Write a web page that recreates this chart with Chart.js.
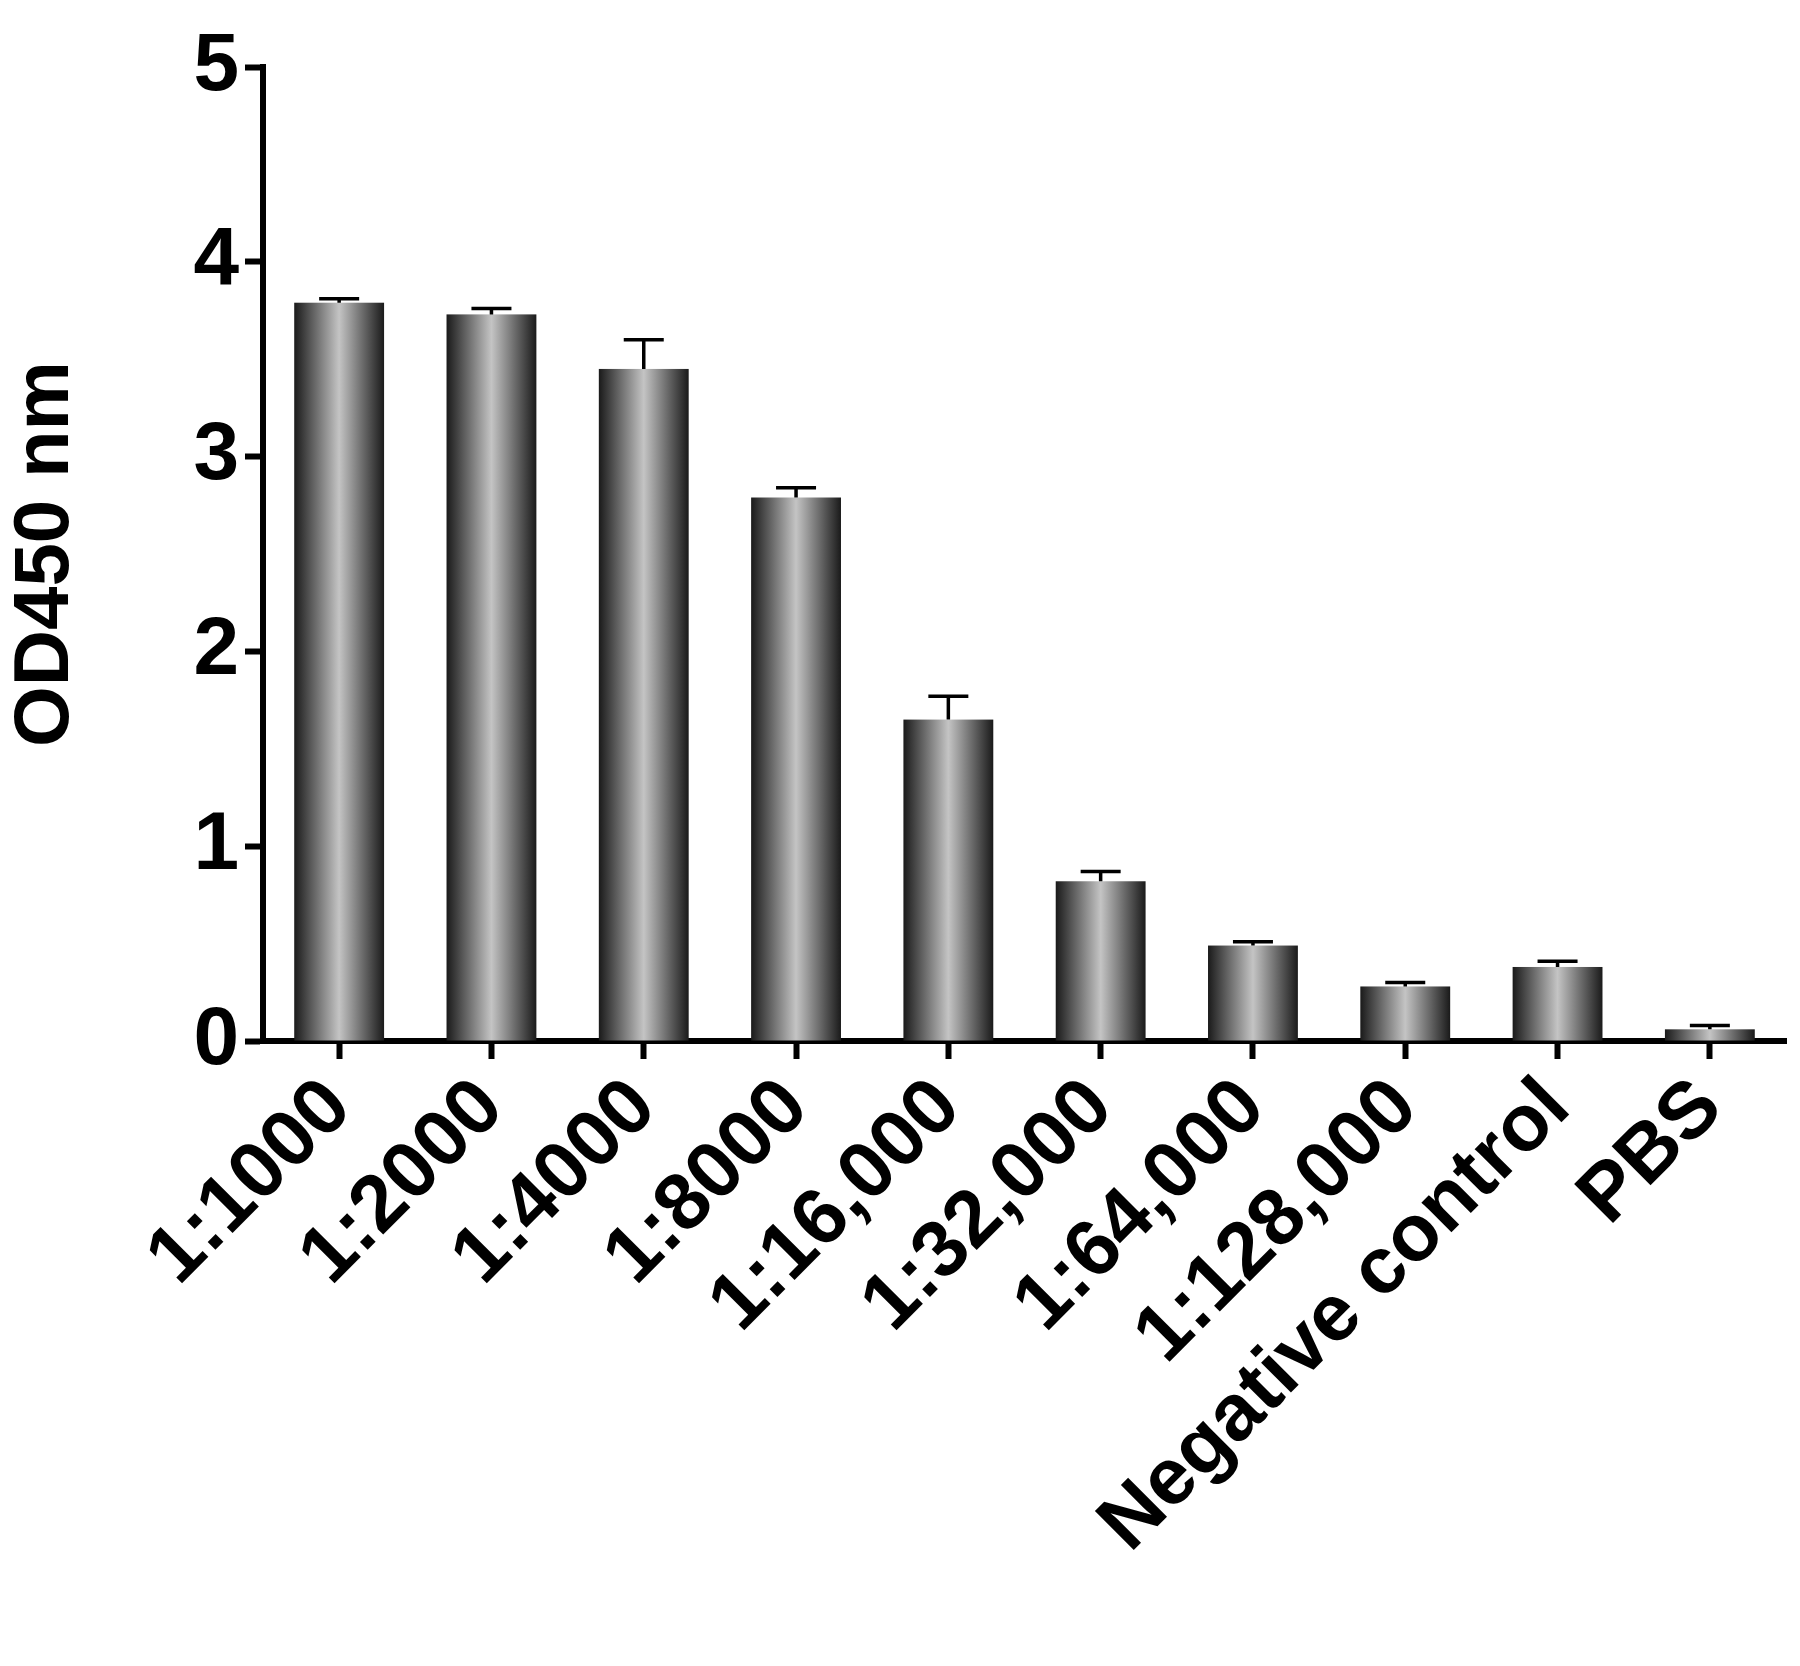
<!DOCTYPE html>
<html><head><script src="https://cdn.jsdelivr.net/npm/chart.js@4"></script>
<style>body{margin:0;background:#fff}</style></head><body>
<canvas id="c" width="1800" height="1666"></canvas>
<script>
const categories=["1:1000","1:2000","1:4000","1:8000","1:16,000","1:32,000","1:64,000","1:128,000","Negative control","PBS"];
const means=[3.79,3.73,3.45,2.79,1.65,0.82,0.49,0.28,0.38,0.06];
const upper=[3.81,3.76,3.60,2.84,1.77,0.87,0.51,0.30,0.41,0.08];
const yTicks=[0,1,2,3,4,5];
const F="'Liberation Sans', Arial, sans-serif";
const bars={id:'bars',afterDatasetsDraw(chart){
 const ctx=chart.ctx,y=chart.scales.y;
 ctx.save();
 chart.getDatasetMeta(0).data.forEach((el,i)=>{
  const l=el.x-el.width/2,r=el.x+el.width/2;
  const g=ctx.createLinearGradient(l,0,r,0);
  g.addColorStop(0,'#1a1a1a');g.addColorStop(0.5,'#c4c4c4');g.addColorStop(1,'#1a1a1a');
  ctx.fillStyle=g;ctx.fillRect(l,el.y,el.width,el.base-el.y);
 });
 ctx.strokeStyle='#000';ctx.lineWidth=3.5;
 chart.getDatasetMeta(0).data.forEach((el,i)=>{
  const t=y.getPixelForValue(upper[i]),b=y.getPixelForValue(means[i]);
  ctx.beginPath();ctx.moveTo(el.x,b);ctx.lineTo(el.x,t);ctx.moveTo(el.x-20,t);ctx.lineTo(el.x+20,t);ctx.stroke();
 });ctx.restore();
}};
new Chart(document.getElementById('c'),{type:'bar',
data:{labels:categories,datasets:[{data:means,barPercentage:0.59,categoryPercentage:1,borderWidth:0,backgroundColor:'rgba(0,0,0,0)'}]},
options:{responsive:false,animation:false,
 layout:{padding:{top:67,right:14,left:0,bottom:0}},
 plugins:{legend:{display:false},tooltip:{enabled:false}},
 scales:{
  x:{grid:{offset:false,drawOnChartArea:false,tickLength:18,tickWidth:6,tickColor:'#000'},border:{color:'#000',width:6},
   ticks:{color:'#000',font:{family:F,size:80,weight:'bold'},maxRotation:45,minRotation:45,padding:2},
   afterFit(s){s.height=1666-1041;}},
  y:{min:0,max:5,afterBuildTicks(s){s.ticks=yTicks.map(v=>({value:v}));},
   grid:{drawOnChartArea:false,tickLength:18,tickWidth:6,tickColor:'#000'},border:{color:'#000',width:6},
   ticks:{color:'#000',font:{family:F,size:82,weight:'bold'},padding:6},
   title:{display:true,text:'OD450 nm',color:'#000',font:{family:F,size:78,weight:'bold'},padding:0},
   afterFit(s){s.width=263;}}
 }},plugins:[bars]});
</script></body></html>
